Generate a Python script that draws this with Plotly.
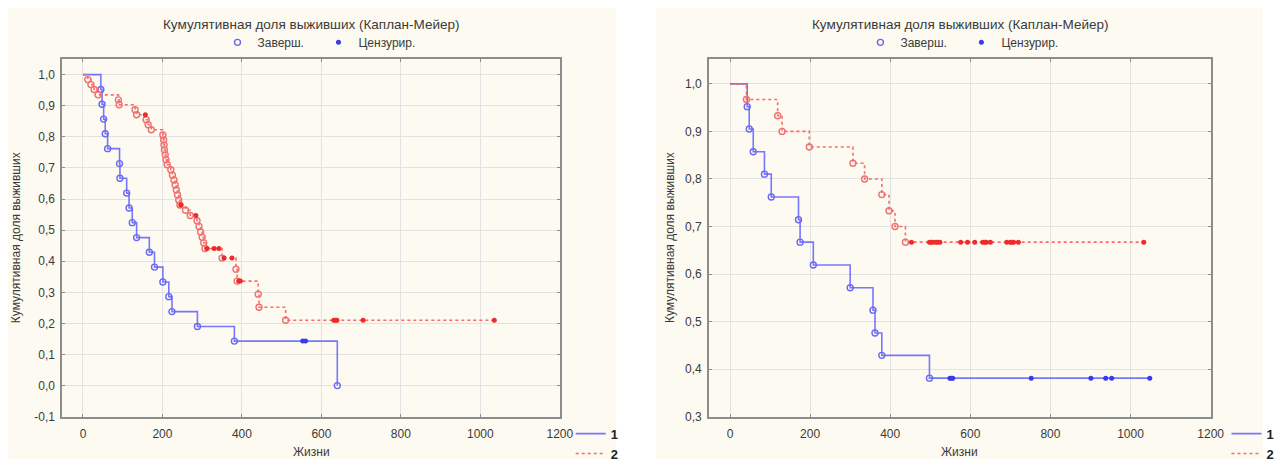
import plotly.graph_objects as go

# ---------------- data: Kaplan-Meier steps (time, cumulative survival, censored flag) ----------------
# Left panel, group 1
left_g1_time = [45, 48, 52, 56, 62, 92, 93, 110, 116, 124, 135, 167, 180, 201, 216, 224, 288, 381, 553, 560, 640]
left_g1_surv = [0.952, 0.905, 0.857, 0.810, 0.762, 0.714, 0.667, 0.619, 0.571, 0.524, 0.476, 0.429,
                0.381, 0.333, 0.286, 0.238, 0.190, 0.143, 0.143, 0.143, 0.0]
left_g1_cens = [0, 0, 0, 0, 0, 0, 0, 0, 0, 0, 0, 0, 0, 0, 0, 0, 0, 0, 1, 1, 0]

# Left panel, group 2
left_g2_time = [12, 20, 28, 38, 89, 91, 131, 135, 157, 159, 164, 172, 201, 203, 204, 205, 207, 209, 212,
                221, 225, 229, 232, 235, 238, 241, 244, 246, 258, 270, 284, 287, 292, 296, 300, 304, 307,
                312, 330, 342, 350, 355, 375, 385, 388, 392, 396, 441, 443, 510, 631, 636, 639, 705, 1035]
left_g2_surv = [0.984, 0.968, 0.952, 0.935, 0.919, 0.903, 0.887, 0.871, 0.871, 0.855, 0.839, 0.823,
                0.806, 0.790, 0.774, 0.758, 0.742, 0.726, 0.710, 0.694, 0.677, 0.661, 0.645, 0.629,
                0.613, 0.597, 0.581, 0.581, 0.564, 0.547, 0.547, 0.530, 0.512, 0.494, 0.477, 0.459,
                0.441, 0.441, 0.441, 0.441, 0.410, 0.410, 0.410, 0.374, 0.336, 0.336, 0.336, 0.294,
                0.252, 0.210, 0.210, 0.210, 0.210, 0.210, 0.210]
left_g2_cens = [0, 0, 0, 0, 0, 0, 0, 0, 1, 0, 0, 0, 0, 0, 0, 0, 0, 0, 0,
                0, 0, 0, 0, 0, 0, 0, 0, 1, 0, 0, 1, 0, 0, 0, 0, 0, 0,
                1, 1, 1, 0, 1, 1, 0, 0, 1, 1, 0, 0, 0, 1, 1, 1, 1, 1]

# Right panel, group 1
right_g1_time = [43, 48, 58, 86, 103, 171, 175, 208, 300, 357, 362, 379, 498,
                 549, 553, 556, 752, 901, 938, 953, 1048]
right_g1_surv = [0.952, 0.905, 0.857, 0.810, 0.762, 0.714, 0.667, 0.619, 0.571, 0.524, 0.476, 0.429,
                 0.381, 0.381, 0.381, 0.381, 0.381, 0.381, 0.381, 0.381, 0.381]
right_g1_cens = [0] * 13 + [1] * 8

# Right panel, group 2
right_g2_time = [41, 119, 130, 198, 307, 336, 379, 397, 412, 438,
                 453, 498, 502, 506, 514, 518, 524, 576, 593, 611, 631, 636, 640, 650,
                 691, 700, 704, 708, 720, 1033]
right_g2_surv = [0.967, 0.933, 0.900, 0.867, 0.833, 0.800, 0.767, 0.733, 0.700, 0.667] + [0.667] * 20
right_g2_cens = [0] * 10 + [1] * 20

x_ticks = [0, 200, 400, 600, 800, 1000, 1200]
left_y_ticks = [-0.1, 0.0, 0.1, 0.2, 0.3, 0.4, 0.5, 0.6, 0.7, 0.8, 0.9, 1.0]
right_y_ticks = [0.3, 0.4, 0.5, 0.6, 0.7, 0.8, 0.9, 1.0]

title_text = "Кумулятивная доля выживших (Каплан-Мейер)"
y_title_text = "Кумулятивная доля выживших"
x_title_text = "Жизни"
event_label = "Заверш."
censor_label = "Цензурир."
group_labels = ["1", "2"]

# ---------------- styling ----------------
W, H = 1283, 469
FONT = "Liberation Sans, Arial, sans-serif"
TXT = "#3a3a3a"
CREAM = "#fdfaf1"
FRAME = "#8c8c8c"
GRID = "#e2e2e2"

BLUE_LINE = "rgba(95,95,255,0.85)"
BLUE_MARK = "#3a3ae6"
BLUE_OPEN = "#6a6af0"
RED_LINE = "rgba(255,90,90,0.9)"
RED_MARK = "#ee2b2b"
RED_OPEN = "#f07070"


def fx(p):
    return p / W


def fy(p):
    return 1 - p / H


def comma_labels(vals):
    return [f"{v:.1f}".replace(".", ",") for v in vals]


fig = go.Figure()


def add_group(times, surv, cens, xa, ya, line_color, line_dash, mark_col, open_col, name, legend):
    # step line starting at S=1 at time 0
    fig.add_trace(go.Scatter(
        x=[0] + times, y=[1.0] + surv, mode="lines", line_shape="hv",
        line=dict(color=line_color, width=1.6, dash=line_dash),
        xaxis=xa, yaxis=ya, name=name, legend=legend, showlegend=True, hoverinfo="skip"))
    ev_x = [t for t, c in zip(times, cens) if c == 0]
    ev_y = [s for s, c in zip(surv, cens) if c == 0]
    ce_x = [t for t, c in zip(times, cens) if c == 1]
    ce_y = [s for s, c in zip(surv, cens) if c == 1]
    fig.add_trace(go.Scatter(
        x=ev_x, y=ev_y, mode="markers",
        marker=dict(symbol="circle-open", size=6, color=open_col, line=dict(width=1.4, color=open_col)),
        xaxis=xa, yaxis=ya, showlegend=False))
    fig.add_trace(go.Scatter(
        x=ce_x, y=ce_y, mode="markers",
        marker=dict(symbol="circle", size=5, color=mark_col),
        xaxis=xa, yaxis=ya, showlegend=False))


add_group(left_g1_time, left_g1_surv, left_g1_cens, "x", "y", BLUE_LINE, "solid",
          BLUE_MARK, BLUE_OPEN, group_labels[0], "legend3")
add_group(left_g2_time, left_g2_surv, left_g2_cens, "x", "y", RED_LINE, "dot",
          RED_MARK, RED_OPEN, group_labels[1], "legend3")
add_group(right_g1_time, right_g1_surv, right_g1_cens, "x2", "y2", BLUE_LINE, "solid",
          BLUE_MARK, BLUE_OPEN, group_labels[0], "legend4")
add_group(right_g2_time, right_g2_surv, right_g2_cens, "x2", "y2", RED_LINE, "dot",
          RED_MARK, RED_OPEN, group_labels[1], "legend4")

# marker-type keys above each panel
for lg, xa, ya in (("legend", "x", "y"), ("legend2", "x2", "y2")):
    fig.add_trace(go.Scatter(x=[None], y=[None], mode="markers", name=event_label,
                             marker=dict(symbol="circle-open", size=6, color=BLUE_OPEN,
                                         line=dict(width=1.4, color=BLUE_OPEN)),
                             xaxis=xa, yaxis=ya, legend=lg))
    fig.add_trace(go.Scatter(x=[None], y=[None], mode="markers", name=censor_label,
                             marker=dict(symbol="circle", size=5, color=BLUE_MARK),
                             xaxis=xa, yaxis=ya, legend=lg))

tickfont = dict(family=FONT, size=12, color=TXT)


def xaxis_cfg(domain):
    return dict(domain=domain, range=[-52, 1200], tickvals=x_ticks, showgrid=True,
                gridcolor=GRID, gridwidth=1, zeroline=False, showline=True, linecolor=FRAME,
                linewidth=2, mirror="allticks", ticks="inside", ticklen=3, tickcolor=FRAME,
                tickfont=tickfont, ticklabelstandoff=5, fixedrange=True)


def yaxis_cfg(domain, rng, vals):
    return dict(domain=domain, range=rng, tickvals=vals, ticktext=comma_labels(vals),
                showgrid=True, gridcolor=GRID, gridwidth=1, zeroline=False, showline=True,
                linecolor=FRAME, linewidth=2, mirror="allticks", ticks="inside", ticklen=3,
                tickcolor=FRAME, tickfont=tickfont, ticklabelstandoff=3, fixedrange=True)


ydom = [fy(423), fy(60)]
L_X = [fx(63), fx(566)]
R_X = [fx(717), fx(1224)]

legend_top = dict(orientation="h", xref="paper", yref="paper", xanchor="center", yanchor="middle",
                  font=dict(family=FONT, size=12, color=TXT), bgcolor="rgba(0,0,0,0)",
                  itemwidth=30, entrywidth=56)
legend_bottom = dict(orientation="v", xref="paper", yref="paper", xanchor="left", yanchor="top",
                     font=dict(family=FONT, size=13, color="#222", weight="bold"),
                     bgcolor="rgba(0,0,0,0)", itemwidth=30, tracegroupgap=0)

fig.update_layout(
    width=W, height=H, margin=dict(l=0, r=0, t=0, b=0),
    paper_bgcolor="white", plot_bgcolor="white",
    font=dict(family=FONT, size=12, color=TXT),
    xaxis=xaxis_cfg(L_X), yaxis=yaxis_cfg(ydom, [-0.1, 1.05], left_y_ticks),
    xaxis2=dict(xaxis_cfg(R_X), anchor="y2"),
    yaxis2=dict(yaxis_cfg(ydom, [0.3, 1.052], right_y_ticks), anchor="x2"),
    legend=dict(legend_top, x=fx(322), y=fy(43)),
    legend2=dict(legend_top, x=fx(972), y=fy(43)),
    legend3=dict(legend_bottom, x=fx(577), y=fy(425)),
    legend4=dict(legend_bottom, x=fx(1240), y=fy(425)),
    showlegend=True,
    shapes=[
        dict(type="rect", xref="paper", yref="paper", layer="below", line=dict(width=0),
             fillcolor=CREAM, x0=fx(8), x1=fx(623), y0=fy(466), y1=fy(8)),
        dict(type="rect", xref="paper", yref="paper", layer="below", line=dict(width=0),
             fillcolor=CREAM, x0=fx(663), x1=fx(1277), y0=fy(466), y1=fy(8)),
    ],
)

annotations = []
for cx, ycx in ((fx((63 + 566) / 2), fx(17)), (fx((717 + 1224) / 2), fx(678))):
    annotations.append(dict(text=title_text, x=cx, y=fy(25), xref="paper", yref="paper",
                            showarrow=False, xanchor="center", yanchor="middle",
                            font=dict(family=FONT, size=13.5, color=TXT)))
    annotations.append(dict(text=x_title_text, x=cx, y=fy(459), xref="paper", yref="paper",
                            showarrow=False, xanchor="center", yanchor="middle",
                            font=dict(family=FONT, size=12, color=TXT)))
    annotations.append(dict(text=y_title_text, x=ycx, y=fy(241), xref="paper", yref="paper",
                            showarrow=False, xanchor="center", yanchor="middle", textangle=-90,
                            font=dict(family=FONT, size=12, color=TXT)))
fig.update_layout(annotations=annotations)

fig.write_html("out.html", config={"displayModeBar": False})
